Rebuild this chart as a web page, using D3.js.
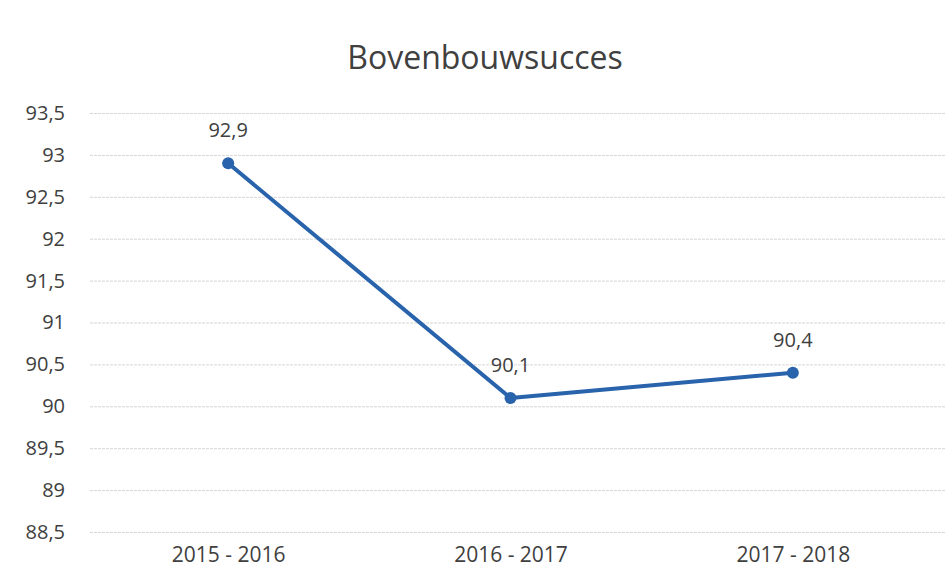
<!DOCTYPE html>
<html>
<head>
<meta charset="utf-8">
<script src="https://cdn.jsdelivr.net/npm/d3@7"></script>
<style>
  body { margin: 0; background: #fff; }
  text { font-family: "Open Sans", "Noto Sans", sans-serif; }
</style>
</head>
<body>
<div id="chart"></div>
<script>
// data
const years = ["2015 - 2016", "2016 - 2017", "2017 - 2018"];
const values = [92.9, 90.1, 90.4];
const yTicks = [88.5, 89, 89.5, 90, 90.5, 91, 91.5, 92, 92.5, 93, 93.5];

const W = 951, H = 585;
const margin = {top: 113, right: 6, bottom: 53, left: 90};
const width = W - margin.left - margin.right,
      height = H - margin.top - margin.bottom;

const fmt = v => String(v).replace(".", ",");

const svg = d3.select("#chart")
  .append("svg")
    .attr("width", W)
    .attr("height", H);

// title
svg.append("text")
  .attr("x", 485)
  .attr("y", 69)
  .attr("text-anchor", "middle")
  .attr("font-size", "32px")
  .attr("fill", "#404040")
  .text("Bovenbouwsucces");

const g = svg.append("g")
  .attr("transform", `translate(${margin.left},${margin.top})`);

const x = d3.scalePoint()
  .domain(years)
  .range([-3, 844])
  .padding(0.5);

const y = d3.scaleLinear()
  .domain([88.5, 93.5])
  .range([height, 0]);

// gridlines + y axis
const yAxis = g.append("g")
  .call(d3.axisLeft(y).tickValues(yTicks).tickSize(-width).tickFormat(fmt).tickPadding(25));
yAxis.select(".domain").remove();
yAxis.selectAll(".tick line")
  .attr("stroke", "#d6d6d6")
  .attr("stroke-dasharray", "3,1");
yAxis.selectAll(".tick text")
  .attr("font-size", "20px")
  .attr("fill", "#404040")
  .attr("font-family", "\"Open Sans\", sans-serif");

// x axis
const xAxis = g.append("g")
  .attr("transform", `translate(0,${height})`)
  .call(d3.axisBottom(x).tickSize(0).tickPadding(15));
xAxis.select(".domain").remove();
xAxis.selectAll(".tick text")
  .attr("font-size", "21px")
  .attr("fill", "#404040")
  .attr("font-family", "\"Open Sans\", sans-serif");

const pts = years.map((d, i) => ({year: d, value: values[i]}));

// line
g.append("path")
  .datum(pts)
  .attr("fill", "none")
  .attr("stroke", "#2863ab")
  .attr("stroke-width", 4)
  .attr("stroke-linejoin", "round")
  .attr("d", d3.line()
    .x(d => x(d.year))
    .y(d => y(d.value)));

// markers
g.selectAll("circle.pt")
  .data(pts)
  .enter().append("circle")
    .attr("class", "pt")
    .attr("cx", d => x(d.year))
    .attr("cy", d => y(d.value))
    .attr("r", 6)
    .attr("fill", "#2863ab");

// data labels
g.selectAll("text.lbl")
  .data(pts)
  .enter().append("text")
    .attr("class", "lbl")
    .attr("x", d => x(d.year))
    .attr("y", d => y(d.value) - 26)
    .attr("text-anchor", "middle")
    .attr("font-size", "20px")
    .attr("fill", "#404040")
    .text(d => fmt(d.value));
</script>
</body>
</html>
